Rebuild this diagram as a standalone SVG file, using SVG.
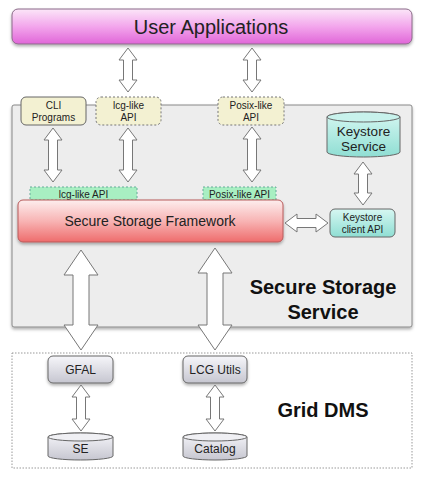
<svg xmlns="http://www.w3.org/2000/svg" width="423" height="480" viewBox="0 0 423 480">
<style>
text{font-family:"Liberation Sans",Arial,sans-serif;fill:#222;text-anchor:middle}
.arr{fill:#fff;stroke:#777;stroke-width:1}
.s10{font-size:10px}
.b20{font-size:20px;font-weight:bold;fill:#111}
</style>
<defs>
<linearGradient id="gPink" x1="0" y1="0" x2="0" y2="1"><stop offset="0" stop-color="#fbe6f8"/><stop offset="0.5" stop-color="#f3a6ec"/><stop offset="1" stop-color="#e066d8"/></linearGradient>
<linearGradient id="gRed" x1="0" y1="0" x2="0" y2="1"><stop offset="0" stop-color="#fdeeee"/><stop offset="0.5" stop-color="#f8b4b4"/><stop offset="1" stop-color="#ee6c6c"/></linearGradient>
<linearGradient id="gTeal" x1="0" y1="0" x2="0" y2="1"><stop offset="0" stop-color="#d6f7f2"/><stop offset="1" stop-color="#8fded3"/></linearGradient>
<linearGradient id="gGray" x1="0" y1="0" x2="0" y2="1"><stop offset="0" stop-color="#f6f6fa"/><stop offset="1" stop-color="#c6c6d0"/></linearGradient>
<filter id="sh" x="-10%" y="-10%" width="120%" height="130%"><feDropShadow dx="0" dy="2" stdDeviation="1.5" flood-color="#000" flood-opacity="0.3"/></filter>
</defs>

<g id="user-applications">
<rect x="12" y="9" width="400" height="35" rx="6" fill="url(#gPink)" stroke="#8a6a88" filter="url(#sh)"/>
<text x="211" y="34" style="font-size:20px">User Applications</text>
</g>

<g id="secure-storage-service">
<rect x="12" y="105" width="400" height="222" rx="2" fill="#ededed" stroke="#888" filter="url(#sh)"/>
<text class="b20" x="323" y="294">Secure Storage</text>
<text class="b20" x="323" y="319">Service</text>
</g>

<g id="grid-dms">
<rect x="12" y="353" width="400" height="115" fill="#fff" stroke="#999" stroke-dasharray="1.5,1.5"/>
<text class="b20" x="323" y="417">Grid DMS</text>
</g>

<g id="cli-programs">
<rect x="21" y="97" width="65" height="28" rx="5" fill="#f3f1d2" stroke="#666"/>
<text class="s10" x="53.5" y="109">CLI</text>
<text class="s10" x="53.5" y="121">Programs</text>
</g>

<g id="lcg-like-api-top">
<rect x="96" y="97" width="65" height="28" rx="5" fill="#f3f1d2" stroke="#777" stroke-dasharray="2,2"/>
<text class="s10" x="128.5" y="109">lcg-like</text>
<text class="s10" x="128.5" y="121">API</text>
</g>

<g id="posix-like-api-top">
<rect x="218" y="97" width="66" height="28" rx="5" fill="#f3f1d2" stroke="#777" stroke-dasharray="2,2"/>
<text class="s10" x="251" y="109">Posix-like</text>
<text class="s10" x="251" y="121">API</text>
</g>

<g id="keystore-service">
<path d="M327,117 A36.5,5 0 0 1 400,117 L400,152 A36.5,5 0 0 1 327,152 Z" fill="url(#gTeal)" stroke="#666"/>
<ellipse cx="363.5" cy="117" rx="36.5" ry="5" fill="#c8f2ec" stroke="#666"/>
<text x="363.5" y="136" style="font-size:13.5px">Keystore</text>
<text x="363.5" y="151" style="font-size:13.5px">Service</text>
</g>

<g id="lcg-like-api">
<rect x="30" y="187" width="107" height="13" fill="#a8efc2" stroke="#6a9" stroke-dasharray="2,2"/>
<text class="s10" x="83.5" y="198">lcg-like API</text>
</g>

<g id="posix-like-api">
<rect x="203" y="187" width="73" height="13" fill="#a8efc2" stroke="#6a9" stroke-dasharray="2,2"/>
<text class="s10" x="239.5" y="198">Posix-like API</text>
</g>

<g id="secure-storage-framework">
<rect x="18" y="200" width="265" height="42" rx="5" fill="url(#gRed)" stroke="#b85a5a" filter="url(#sh)"/>
<text x="150" y="226" style="font-size:14px">Secure Storage Framework</text>
</g>

<g id="keystore-client-api">
<rect x="330" y="209" width="65" height="28" rx="5" fill="url(#gTeal)" stroke="#666"/>
<text class="s10" x="362.5" y="221">Keystore</text>
<text class="s10" x="362.5" y="233">client API</text>
</g>

<g id="gfal">
<rect x="48" y="356" width="65" height="27" rx="5" fill="url(#gGray)" stroke="#666" filter="url(#sh)"/>
<text x="80.5" y="374" style="font-size:12px">GFAL</text>
</g>

<g id="lcg-utils">
<rect x="183" y="356" width="64" height="27" rx="5" fill="url(#gGray)" stroke="#666" filter="url(#sh)"/>
<text x="215" y="374" style="font-size:12px">LCG Utils</text>
</g>

<g id="se">
<path d="M48,437 A32.5,4 0 0 1 113,437 L113,456 A32.5,4 0 0 1 48,456 Z" fill="url(#gGray)" stroke="#666"/>
<ellipse cx="80.5" cy="437" rx="32.5" ry="4" fill="#f0f0f4" stroke="#666"/>
<text x="80.5" y="453" style="font-size:12px">SE</text>
</g>

<g id="catalog">
<path d="M183,437 A32,4 0 0 1 247,437 L247,456 A32,4 0 0 1 183,456 Z" fill="url(#gGray)" stroke="#666"/>
<ellipse cx="215" cy="437" rx="32" ry="4" fill="#f0f0f4" stroke="#666"/>
<text x="215" y="453" style="font-size:12px">Catalog</text>
</g>

<g id="connectors">
<path class="arr" d="M128,48 L137,60 L132.5,60 L132.5,80 L137,80 L128,92 L119,80 L123.5,80 L123.5,60 L119,60 Z"/>
<path class="arr" d="M252,48 L261,60 L256.5,60 L256.5,80 L261,80 L252,92 L243,80 L247.5,80 L247.5,60 L243,60 Z"/>
<path class="arr" d="M53,128 L62,140 L57.5,140 L57.5,170 L62,170 L53,182 L44,170 L48.5,170 L48.5,140 L44,140 Z"/>
<path class="arr" d="M128,128 L137,140 L132.5,140 L132.5,170 L137,170 L128,182 L119,170 L123.5,170 L123.5,140 L119,140 Z"/>
<path class="arr" d="M252,127 L261,139 L256.5,139 L256.5,170 L261,170 L252,182 L243,170 L247.5,170 L247.5,139 L243,139 Z"/>
<path class="arr" d="M363,162 L372,174 L367.5,174 L367.5,193 L372,193 L363,205 L354,193 L358.5,193 L358.5,174 L354,174 Z"/>
<path class="arr" d="M285,223 L297,214 L297,218.5 L316,218.5 L316,214 L328,223 L316,232 L316,227.5 L297,227.5 L297,232 Z"/>
<path class="arr" d="M81,250 L98,275 L89,275 L89,325 L98,325 L81,350 L64,325 L73,325 L73,275 L64,275 Z"/>
<path class="arr" d="M215,248 L232,273 L223,273 L223,325 L232,325 L215,350 L198,325 L207,325 L207,273 L198,273 Z"/>
<path class="arr" d="M81,385 L90,397 L85.5,397 L85.5,419 L90,419 L81,431 L72,419 L76.5,419 L76.5,397 L72,397 Z"/>
<path class="arr" d="M215,385 L224,397 L219.5,397 L219.5,419 L224,419 L215,431 L206,419 L210.5,419 L210.5,397 L206,397 Z"/>
</g>
</svg>
